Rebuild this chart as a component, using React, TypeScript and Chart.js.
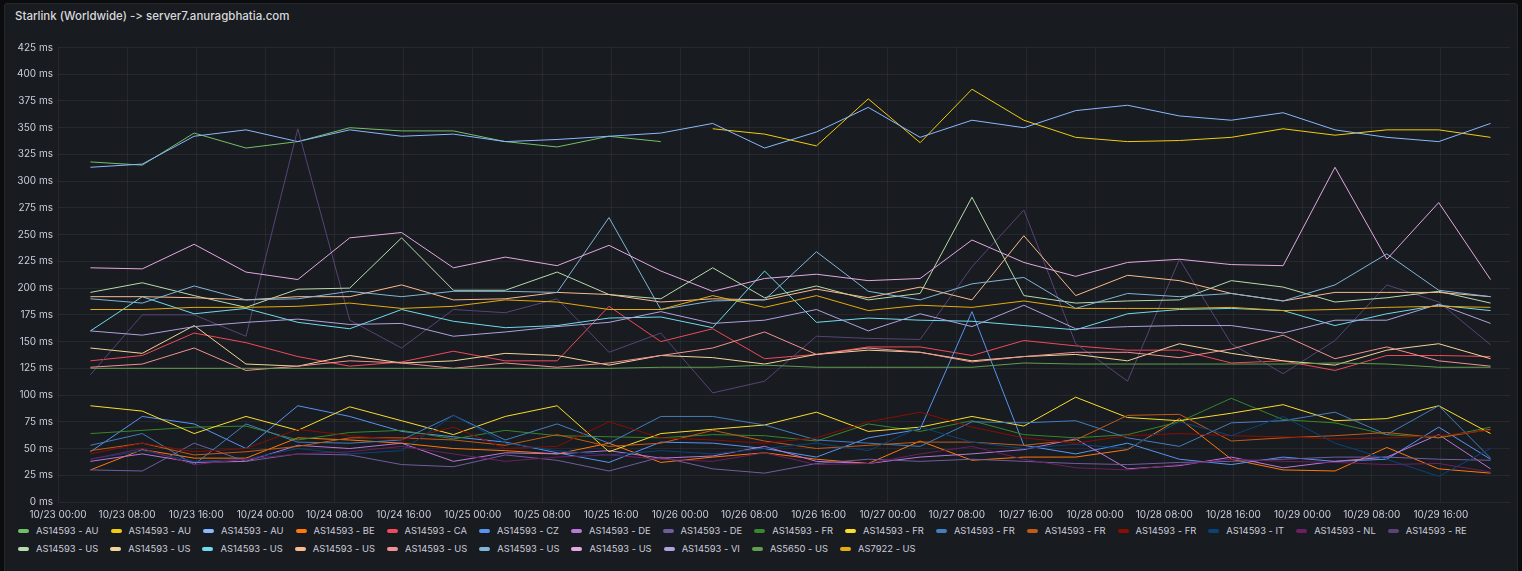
import React, { useEffect, useRef } from "react";
import { Chart, registerables } from "chart.js";

Chart.register(...registerables);

const title = "Starlink (Worldwide) -> server7.anuragbhatia.com";

const times = [
  "10/23 03:45", "10/23 09:45", "10/23 15:45", "10/23 21:45",
  "10/24 03:45", "10/24 09:45", "10/24 15:45", "10/24 21:45",
  "10/25 03:45", "10/25 09:45", "10/25 15:45", "10/25 21:45",
  "10/26 03:45", "10/26 09:45", "10/26 15:45", "10/26 21:45",
  "10/27 03:45", "10/27 09:45", "10/27 15:45", "10/27 21:45",
  "10/28 03:45", "10/28 09:45", "10/28 15:45", "10/28 21:45",
  "10/29 03:45", "10/29 09:45", "10/29 15:45", "10/29 21:45",
];

const xTickHours = [0, 8, 16, 24, 32, 40, 48, 56, 64, 72, 80, 88, 96, 104, 112, 120, 128, 136, 144, 152, 160];
const yTicks = [0, 25, 50, 75, 100, 125, 150, 175, 200, 225, 250, 275, 300, 325, 350, 375, 400, 425];

const seriesNames = [
  "AS14593 - AU", "AS14593 - AU", "AS14593 - AU", "AS14593 - BE", "AS14593 - CA", "AS14593 - CZ",
  "AS14593 - DE", "AS14593 - DE", "AS14593 - FR", "AS14593 - FR", "AS14593 - FR", "AS14593 - FR",
  "AS14593 - FR", "AS14593 - IT", "AS14593 - NL", "AS14593 - RE",
  "AS14593 - US", "AS14593 - US", "AS14593 - US", "AS14593 - US", "AS14593 - US", "AS14593 - US",
  "AS14593 - US", "AS14593 - VI", "AS5650 - US", "AS7922 - US",
];

const seriesColors = [
  "#73BF69", "#F2CC0C", "#8AB8FF", "#FF780A", "#F2495C", "#5794F2", "#B877D9", "#705DA0",
  "#37872D", "#FADE2A", "#447EBC", "#C15C17", "#890F02", "#0A437C", "#6D1F62", "#584477",
  "#B7DBAB", "#F4D598", "#70DBED", "#F9BA8F", "#F29191", "#82B5D8", "#E5A8E2", "#AEA2E0",
  "#629E51", "#E5AC0E",
];

const N = null;
const auGreen = [318, 315, 345, 331, 337, 350, 347, 347, 337, 332, 342, 337, N, N, N, N, N, N, N, N, N, N, N, N, N, N, N, N];
const auYellow = [N, N, N, N, N, N, N, N, N, N, N, N, 349, 344, 333, 377, 336, 386, 357, 341, 337, 338, 341, 349, 343, 348, 348, 341];
const auBlue = [313, 316, 342, 348, 337, 348, 342, 344, 337, 339, 342, 345, 354, 331, 346, 369, 341, 357, 350, 366, 371, 361, 357, 364, 348, 341, 337, 354];
const be = [30, 49, 41, 41, 60, 58, 55, 50, 48, 45, 55, 37, 42, 46, 40, 36, 57, 39, 42, 42, 49, 78, 40, 30, 29, 51, 31, 27];
const ca = [132, 137, 158, 149, 136, 127, 131, 141, 132, 132, 183, 150, 162, 134, 138, 145, 145, 137, 151, 146, 142, 142, 130, 132, 123, 137, 137, 136];
const cz = [47, 80, 73, 50, 90, 80, 66, 61, 56, 46, 37, 56, 55, 50, 42, 60, 68, 178, 53, 45, 55, 40, 35, 42, 38, 40, 70, 40];
const dePurple = [38, 45, 37, 38, 53, 50, 55, 38, 46, 45, 48, 41, 43, 52, 38, 36, 42, 45, 49, 59, 31, 34, 42, 32, 38, 42, 63, 31];
const deViolet = [30, 29, 55, 38, 45, 44, 35, 33, 44, 39, 29, 42, 31, 27, 36, 40, 38, 40, 38, 36, 35, 37, 38, 40, 42, 42, 40, 39];
const frGreen = [64, 67, 70, 71, 58, 65, 67, 59, 67, 62, 61, 60, 63, 62, 57, 73, 66, 76, 63, 60, 63, 75, 97, 77, 74, 63, 60, 70];
const frYellow = [90, 85, 64, 80, 67, 89, 76, 63, 80, 90, 47, 64, 68, 72, 84, 66, 70, 80, 71, 98, 79, 76, 83, 91, 76, 78, 90, 64];
const frBlue = [53, 64, 35, 73, 56, 55, 58, 81, 58, 73, 55, 80, 80, 72, 58, 55, 52, 75, 74, 76, 60, 52, 74, 76, 84, 63, 90, 41];
const frOrange = [48, 55, 44, 47, 52, 60, 60, 58, 53, 63, 52, 55, 67, 57, 50, 53, 56, 56, 53, 58, 81, 82, 57, 60, 62, 65, 60, 68];
const frRed = [45, 55, 47, 50, 68, 62, 58, 70, 50, 52, 75, 60, 58, 55, 60, 75, 84, 70, 60, 55, 62, 64, 62, 61, 59, 60, 62, 67];
const it = [40, 48, 38, 40, 50, 45, 48, 81, 55, 48, 44, 48, 45, 50, 55, 48, 70, 56, 50, 54, 50, 75, 62, 80, 55, 40, 24, 50];
const nl = [40, 50, 35, 40, 45, 47, 52, 45, 38, 42, 44, 40, 38, 46, 35, 36, 45, 52, 40, 32, 30, 35, 40, 38, 37, 35, 36, 28];
const re = [119, 175, 175, 155, 349, 170, 144, 180, 177, 190, 140, 158, 102, 113, 155, 153, 152, 220, 273, 148, 113, 227, 148, 120, 151, 203, 187, 147];
const usGreen = [196, 205, 193, 182, 199, 200, 247, 198, 198, 215, 194, 190, 219, 191, 202, 189, 195, 285, 193, 186, 188, 189, 207, 201, 187, 191, 197, 186];
const usTan = [144, 139, 165, 129, 127, 137, 130, 132, 139, 137, 128, 137, 135, 129, 138, 142, 140, 132, 136, 138, 132, 148, 139, 132, 128, 142, 148, 134];
const usCyan = [160, 192, 176, 181, 168, 162, 180, 169, 163, 165, 172, 173, 163, 216, 168, 172, 170, 169, 165, 161, 176, 180, 181, 179, 165, 176, 184, 179];
const usPeach = [192, 192, 191, 189, 192, 192, 203, 189, 190, 196, 194, 187, 190, 189, 199, 191, 201, 189, 249, 193, 212, 207, 195, 188, 196, 196, 196, 192];
const usRose = [126, 129, 144, 123, 127, 132, 130, 125, 130, 126, 130, 137, 144, 159, 138, 144, 140, 131, 136, 140, 140, 135, 143, 156, 134, 145, 132, 127];
const usSky = [190, 186, 202, 189, 190, 197, 192, 197, 197, 196, 266, 180, 188, 189, 234, 197, 189, 204, 210, 181, 195, 192, 195, 188, 203, 232, 198, 192];
const usPink = [219, 218, 241, 215, 208, 247, 252, 219, 229, 221, 240, 216, 197, 209, 213, 207, 209, 245, 224, 211, 224, 227, 222, 221, 313, 227, 280, 208];
const vi = [160, 156, 164, 168, 171, 166, 167, 155, 159, 164, 168, 178, 167, 170, 180, 160, 176, 164, 184, 162, 164, 165, 165, 158, 170, 170, 185, 167];
const as5650 = [125, 125, 125, 125, 125, 125, 125, 125, 125, 125, 125, 126, 126, 128, 126, 126, 126, 126, 130, 129, 129, 129, 129, 129, 130, 129, 126, 126];
const as7922 = [180, 180, 182, 182, 183, 186, 181, 183, 189, 187, 180, 180, 193, 182, 193, 179, 184, 182, 188, 181, 181, 181, 182, 179, 180, 182, 183, 182];

const seriesValues = [
  auGreen, auYellow, auBlue, be, ca, cz, dePurple, deViolet, frGreen, frYellow, frBlue, frOrange,
  frRed, it, nl, re, usGreen, usTan, usCyan, usPeach, usRose, usSky, usPink, vi, as5650, as7922,
];

function toHours(t: string): number {
  const [d, hm] = t.split(" ");
  const day = parseInt(d.split("/")[1], 10);
  const [h, m] = hm.split(":").map((s) => parseInt(s, 10));
  return (day - 23) * 24 + h + m / 60;
}

function pad(n: number) {
  return n < 10 ? "0" + n : "" + n;
}

const TEXT = "#ccccdc";
const GRID = "rgba(204, 204, 220, 0.08)";
const FONT = "Inter, 'Noto Sans', sans-serif";

export default function App() {
  const ref = useRef<HTMLCanvasElement | null>(null);

  useEffect(() => {
    document.body.style.margin = "0";
    document.body.style.background = "#0b0c0e";
    const hours = times.map(toHours);
    const datasets = seriesValues.map((vals, i) => ({
      label: seriesNames[i],
      data: vals.map((v, j) => ({ x: hours[j], y: v })),
      borderColor: seriesColors[i],
      backgroundColor: seriesColors[i],
      borderWidth: 1,
      pointRadius: 0,
      tension: 0,
      spanGaps: false,
      order: seriesValues.length - i,
    }));
    const chart = new Chart(ref.current as HTMLCanvasElement, {
      type: "line",
      data: { datasets },
      options: {
        animation: false,
        responsive: false,
        devicePixelRatio: 1,
        layout: { padding: { left: 0, right: 8, top: 17.5, bottom: 0 } },
        plugins: { legend: { display: false }, tooltip: { enabled: false } },
        scales: {
          x: {
            type: "linear",
            min: 0,
            max: 168,
            afterBuildTicks: (axis: any) => {
              axis.ticks = xTickHours.map((v) => ({ value: v }));
            },
            afterFit: (axis: any) => {
              axis.height = 20;
            },
            grid: { color: GRID, drawTicks: false },
            border: { display: false },
            ticks: {
              autoSkip: false,
              maxRotation: 0,
              padding: 7,
              color: TEXT,
              font: { family: FONT, size: 10 },
              callback: (v: any) => {
                const h = Number(v);
                const day = 23 + Math.floor(h / 24);
                return "10/" + day + " " + pad(h % 24) + ":00";
              },
            },
          },
          y: {
            min: 0,
            max: 425,
            afterBuildTicks: (axis: any) => {
              axis.ticks = yTicks.map((v) => ({ value: v }));
            },
            afterFit: (axis: any) => {
              axis.width = 54;
            },
            grid: { color: GRID, drawTicks: false },
            border: { display: false },
            ticks: {
              padding: 5,
              color: TEXT,
              font: { family: FONT, size: 10 },
              callback: (v: any) => v + " ms",
            },
          },
        },
      },
    });
    return () => chart.destroy();
  }, []);

  return (
    <div
      style={{
        position: "relative",
        width: 1522,
        height: 571,
        background: "#0b0c0e",
        overflow: "hidden",
        fontFamily: FONT,
        fontFeatureSettings: "'calt' 0, 'liga' 0",
        fontVariantLigatures: "none",
      }}
    >
      <div
        style={{
          position: "absolute",
          left: 4,
          top: 3,
          width: 1514,
          height: 575,
          background: "#181b1f",
          border: "1px solid #25272c",
          borderRadius: 3,
          boxSizing: "border-box",
        }}
      />
      <div
        style={{
          position: "absolute",
          left: 15,
          top: 9,
          fontSize: 11.5,
          fontWeight: 500,
          color: "#d8d9dc",
          whiteSpace: "nowrap",
          fontFeatureSettings: "'calt' 0, 'liga' 0",
        }}
      >
        {title}
      </div>
      <canvas
        ref={ref}
        width={1514}
        height={492}
        style={{ position: "absolute", left: 4, top: 30, width: 1514, height: 492 }}
      />
      <div
        style={{
          position: "absolute",
          left: 18,
          top: 524,
          width: 1485,
          display: "flex",
          flexWrap: "wrap",
          rowGap: 4,
          fontSize: 9.4,
          color: TEXT,
          lineHeight: "14px",
        }}
      >
        {seriesNames.map((name, i) => (
          <div key={i} style={{ display: "flex", alignItems: "center", marginRight: 12 }}>
            <span
              style={{
                display: "inline-block",
                width: 11,
                height: 4,
                borderRadius: 2,
                background: seriesColors[i],
                marginRight: 7,
              }}
            />
            <span style={{ whiteSpace: "nowrap" }}>{name}</span>
          </div>
        ))}
      </div>
    </div>
  );
}
